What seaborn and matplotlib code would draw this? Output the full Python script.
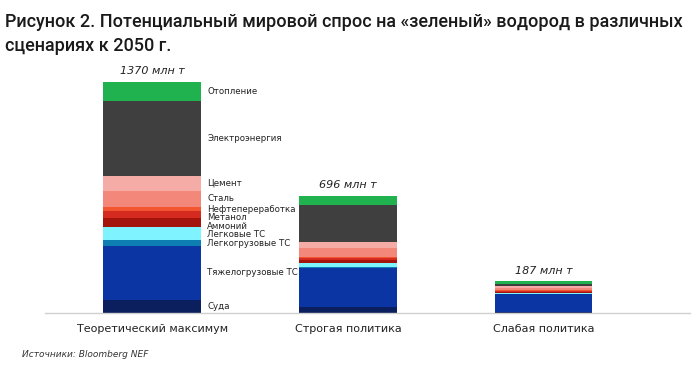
import numpy as np
import pandas as pd
import matplotlib
matplotlib.use("Agg")
import matplotlib.pyplot as plt
import seaborn as sns

# сценарии
scenarios = ["Теоретический максимум", "Строгая политика", "Слабая политика"]

# сектора снизу вверх
sectors = ["Суда", "Тяжелогрузовые ТС", "Легкогрузовые ТС", "Легковые ТС",
           "Аммоний", "Метанол", "Нефтепереработка", "Сталь", "Цемент",
           "Электроэнергия", "Отопление"]

# млн т по сценариям (оценка по картинке)
max_vals = [79, 320, 36, 75, 53, 40, 24, 99, 85, 446, 113]
strict_vals = [36, 228, 6, 24, 20, 10, 6, 55, 34, 222, 55]
weak_vals = [8, 102, 3, 5, 6, 6, 5, 14, 12, 10, 16]

colors = ["#0b1f5e", "#0a35a3", "#0d7fb3", "#7ff3ff",
          "#a3140c", "#d42a1f", "#f2552f", "#f2877a", "#f6aca6",
          "#3f3f3f", "#1fb24f"]

rows = []
for sc, vals in zip(scenarios, [max_vals, strict_vals, weak_vals]):
    for s, v in zip(sectors, vals):
        rows.append({"scenario": sc, "sector": s, "value": v})
df = pd.DataFrame(rows)
df["scenario"] = pd.Categorical(df["scenario"], categories=scenarios, ordered=True)

sns.set_style("white")
plt.rcParams["font.family"] = ["DejaVu Sans"]

fig = plt.figure(figsize=(7, 3.85), dpi=100)
ax = fig.add_axes([0.064, 0.187, 0.922, 0.631])

sns.histplot(data=df, x="scenario", weights="value", hue="sector",
             hue_order=sectors[::-1], palette=dict(zip(sectors, colors)),
             multiple="stack", discrete=True, shrink=0.5, linewidth=0,
             alpha=1, legend=False, ax=ax)

ax.set_xlim(-0.55, 2.75)
ax.set_ylim(0, 1441)
ax.set_xticks(range(len(scenarios)))
ax.set_xticklabels(scenarios, fontsize=8, color="#222222")
ax.set_xticks([0.5, 1.5], minor=True)
ax.tick_params(axis="x", which="major", length=0, pad=8)
ax.tick_params(axis="x", which="minor", length=3, color="#cccccc", direction="out")
ax.set_yticks([])
ax.set_xlabel("")
ax.set_ylabel("")
for side in ["top", "right", "left"]:
    ax.spines[side].set_visible(False)
ax.spines["bottom"].set_color("#d0d0d0")
ax.spines["bottom"].set_linewidth(1)

# подписи секторов у первого столбца: середины сегментов, раздвинутые сверху вниз
cum = np.cumsum([0] + max_vals)
mids = [(cum[i] + cum[i + 1]) / 2 for i in range(len(sectors))]
min_gap = 50
pos = {}
prev = None
for i in range(len(sectors) - 1, -1, -1):
    y = mids[i]
    if prev is not None and prev - y < min_gap:
        y = prev - min_gap
    pos[i] = y
    prev = y
for i, s in enumerate(sectors):
    ax.text(0.28, pos[i], s, fontsize=6.2, va="center", ha="left", color="#222222")

# итоговые значения
for i, vals in enumerate([max_vals, strict_vals, weak_vals]):
    tot = sum(vals)
    ax.text(i, tot + 35, f"{tot} млн т", fontsize=8, style="italic",
            ha="center", va="bottom", color="#222222")

fig.text(0.007, 0.942, "Рисунок 2. Потенциальный мировой спрос на «зеленый» водород в различных",
         fontsize=13, family=["Roboto", "DejaVu Sans"], weight="medium",
         ha="left", va="center", color="#1a1a1a")
fig.text(0.007, 0.88, "сценариях к 2050 г.",
         fontsize=13, family=["Roboto", "DejaVu Sans"], weight="medium",
         ha="left", va="center", color="#1a1a1a")
fig.text(0.031, 0.08, "Источники: Bloomberg NEF", fontsize=6.5, style="italic",
         ha="left", va="center", color="#333333")

fig.savefig("out.png", dpi=100, facecolor="white")
